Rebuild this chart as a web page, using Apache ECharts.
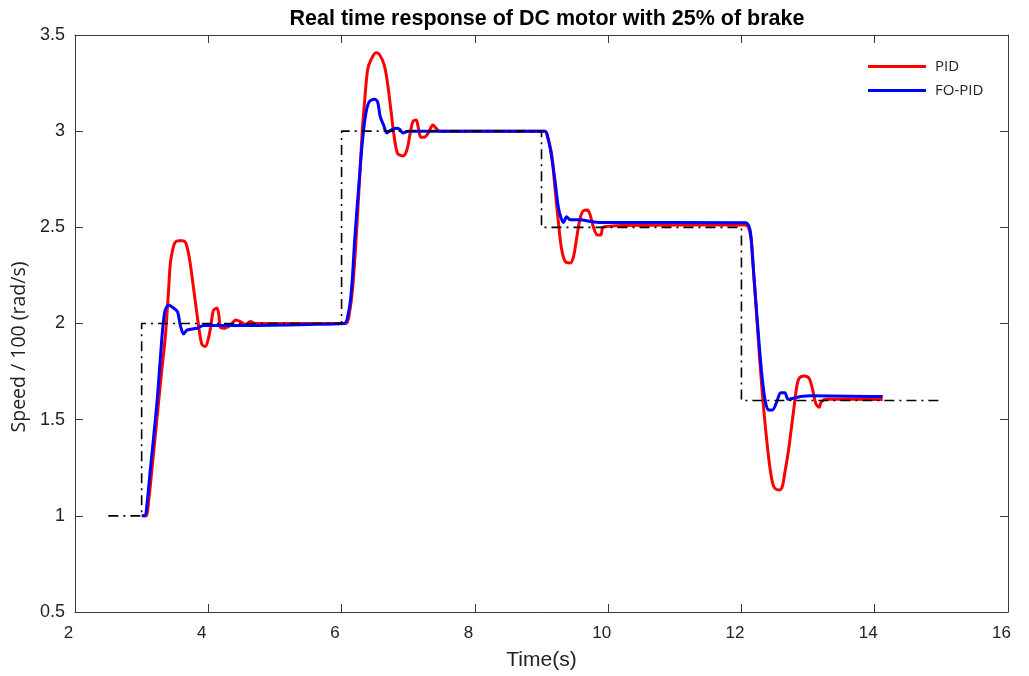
<!DOCTYPE html>
<html>
<head>
<meta charset="utf-8">
<script src="https://cdn.jsdelivr.net/npm/echarts@6/dist/echarts.min.js"></script>
<style>html,body{margin:0;padding:0;background:#fff;}#chart{width:1029px;height:676px;}</style>
</head>
<body>
<div id="chart"></div>
<script>
// ---- data ----
const refTime  = [2.5, 3, 3, 6, 6, 9, 9, 12, 12, 15];
const refSpeed = [1, 1, 2, 2, 3, 3, 2.5, 2.5, 1.6, 1.6];

const pidTime = [3.02,3.07,3.1,3.154,3.2,3.254,3.3,3.355,3.4,3.43,3.47,3.5,3.55,3.62,3.66,3.7,3.73,3.78,3.83,3.87,3.907,3.957,4.0,4.03,4.06,4.08,4.13,4.16,4.18,4.23,4.33,4.38,4.41,4.48,4.56,4.63,4.71,5.0,6.06,6.12,6.17,6.22,6.27,6.31,6.34,6.39,6.44,6.516,6.566,6.64,6.69,6.74,6.79,6.84,6.92,6.98,7.03,7.07,7.12,7.15,7.19,7.24,7.30,7.37,7.42,7.47,9.05,9.075,9.15,9.2,9.25,9.30,9.36,9.43,9.48,9.53,9.58,9.63,9.69,9.73,9.78,9.84,9.89,9.92,10.0,10.2,12.06,12.14,12.19,12.24,12.29,12.34,12.39,12.44,12.49,12.565,12.61,12.65,12.70,12.74,12.79,12.83,12.865,12.94,13.015,13.07,13.115,13.165,13.2,13.27,14.12];
const pidSpeed = [1.0,1.0,1.06,1.24,1.4,1.59,1.75,1.93,2.15,2.31,2.39,2.42,2.43,2.43,2.42,2.37,2.31,2.18,2.05,1.95,1.89,1.88,1.92,1.97,2.04,2.07,2.08,2.04,1.98,1.975,1.99,2.01,2.018,2.01,1.995,2.01,2.0,2.0,2.0,2.06,2.2,2.45,2.75,3.0,3.13,3.318,3.37,3.408,3.40,3.344,3.249,3.11,2.971,2.885,2.871,2.902,2.99,3.05,3.058,3.02,2.968,2.968,2.99,3.032,3.015,3.0,3.0,2.99,2.885,2.711,2.538,2.39,2.32,2.315,2.347,2.45,2.547,2.587,2.59,2.564,2.50,2.46,2.46,2.5,2.505,2.51,2.512,2.45,2.226,1.983,1.74,1.533,1.36,1.221,1.148,1.134,1.148,1.221,1.325,1.43,1.567,1.671,1.715,1.727,1.715,1.654,1.585,1.564,1.593,1.606,1.605];

const foTime = [3.0,3.05,3.08,3.13,3.18,3.23,3.27,3.305,3.33,3.355,3.405,3.44,3.48,3.54,3.58,3.63,3.68,3.83,3.93,4.5,5.5,6.04,6.1,6.15,6.2,6.265,6.315,6.365,6.415,6.49,6.54,6.58,6.63,6.68,6.74,6.82,6.87,6.92,7.0,9.05,9.1,9.15,9.2,9.25,9.29,9.33,9.376,9.43,9.58,9.74,9.89,12.06,12.13,12.165,12.215,12.265,12.315,12.365,12.415,12.465,12.53,12.59,12.65,12.70,12.76,12.89,13.04,14.12];
const foSpeed = [1.0,1.0,1.06,1.24,1.41,1.59,1.77,1.93,2.02,2.07,2.096,2.09,2.08,2.06,1.99,1.945,1.966,1.975,1.99,1.99,1.995,2.0,2.05,2.18,2.45,2.746,2.954,3.093,3.153,3.166,3.153,3.075,3.032,2.99,3.005,3.015,3.01,2.99,3.0,3.0,2.96,2.87,2.75,2.61,2.552,2.525,2.555,2.54,2.54,2.53,2.525,2.524,2.486,2.347,2.122,1.897,1.706,1.585,1.55,1.55,1.593,1.64,1.64,1.606,1.61,1.62,1.625,1.62];

const xTicks = [2, 4, 6, 8, 10, 12, 14, 16];
const yTicks = [0.5, 1, 1.5, 2, 2.5, 3, 3.5];

const zip = (a, b) => a.map((t, i) => [t, b[i]]);

const axisColor = '#3a3a3a';
const chart = echarts.init(document.getElementById('chart'), null, {renderer: 'canvas'});
const baseX = {
  type: 'value', min: xTicks[0], max: xTicks[xTicks.length - 1], interval: 2,
  axisLine: {show: true, lineStyle: {color: axisColor, width: 1}},
  axisTick: {show: true, inside: true, length: 8, lineStyle: {color: axisColor}},
  splitLine: {show: false}
};
const baseY = {
  type: 'value', min: yTicks[0], max: yTicks[yTicks.length - 1], interval: 0.5,
  axisLine: {show: true, lineStyle: {color: axisColor, width: 1}},
  axisTick: {show: true, inside: true, length: 8, lineStyle: {color: axisColor}},
  splitLine: {show: false}
};
chart.setOption({
  animation: false,
  backgroundColor: '#fff',
  title: {
    text: 'Real time response of DC motor with 25% of brake',
    left: 542, top: 3, textAlign: 'center',
    textStyle: {fontFamily: 'Liberation Sans', fontWeight: 'bold', fontSize: 21.5, color: '#000'}
  },
  legend: {
    orient: 'vertical', left: 863, top: 54,
    icon: 'rect', itemWidth: 58, itemHeight: 3, itemGap: 9,
    data: ['PID', 'FO-PID'],
    textStyle: {fontFamily: 'Open Sans', fontSize: 15, color: '#222', padding: [0, 0, 0, 4]}
  },
  grid: {left: 75, top: 35, width: 933, height: 577, containLabel: false},
  xAxis: [
    Object.assign({}, baseX, {
      position: 'bottom',
      name: 'Time(s)', nameLocation: 'middle', nameGap: 38,
      nameTextStyle: {fontFamily: 'Liberation Sans', fontSize: 21, color: '#222'},
      axisLabel: {show: true, fontFamily: 'Liberation Sans', fontSize: 17, color: '#222', margin: 13,
                  padding: [0, 13, 0, 0], formatter: v => String(v)}
    }),
    Object.assign({}, baseX, {position: 'top', axisLabel: {show: false}})
  ],
  yAxis: [
    Object.assign({}, baseY, {
      position: 'left',
      name: 'Speed / 100 (rad/s)', nameLocation: 'middle', nameGap: 46, nameRotate: 90,
      nameTextStyle: {fontFamily: 'Open Sans', fontSize: 19.5, color: '#222', padding: [0, 47, 0, 0]},
      axisLabel: {show: true, fontFamily: 'Liberation Sans', fontSize: 18, color: '#222', margin: 10,
                  formatter: v => String(v)}
    }),
    Object.assign({}, baseY, {position: 'right', axisLabel: {show: false}})
  ],
  series: [
    {
      name: 'PID', type: 'line', data: zip(pidTime, pidSpeed),
      showSymbol: false, symbol: 'none', smooth: 0.3,
      lineStyle: {color: '#ff0000', width: 3}, itemStyle: {color: '#ff0000'}, z: 2
    },
    {
      name: 'FO-PID', type: 'line', data: zip(foTime, foSpeed),
      showSymbol: false, symbol: 'none', smooth: 0.3,
      lineStyle: {color: '#0000ff', width: 3}, itemStyle: {color: '#0000ff'}, z: 3
    },
    {
      name: 'Reference', type: 'line', data: zip(refTime, refSpeed),
      showSymbol: false, symbol: 'none',
      lineStyle: {color: '#000', width: 1.6, type: [10, 5, 2, 5]}, z: 4
    }
  ]
});
</script>
</body>
</html>
